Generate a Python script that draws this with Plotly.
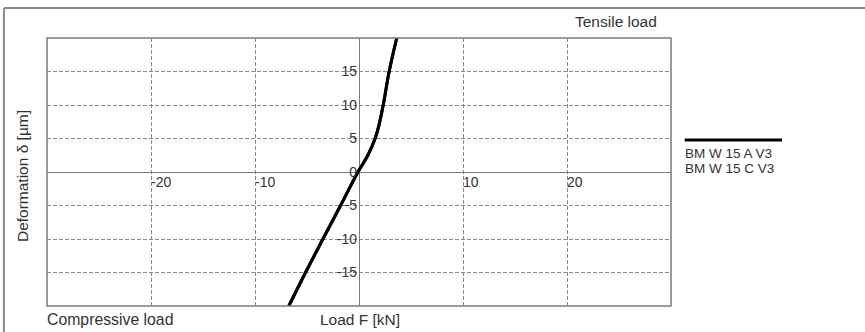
import plotly.graph_objects as go

# load F [kN] vs deformation [um]
load_kn = [-6.75, -5.14, -3.47, -1.77, -0.1, 0.85, 1.55, 1.92, 2.33, 2.9, 3.63]
deform_um = [-20, -15, -10, -5, 0, 2.5, 5, 7, 10, 15, 20]

x_ticks = [-20, -10, 10, 20]
y_ticks = [-15, -10, -5, 0, 5, 10, 15]

series_names = ["BM W 15 A V3", "BM W 15 C V3"]

txt = "#333333"
axis_col = "#7a7a7a"
grid_col = "#8a8a8a"
font = "Liberation Sans, Arial, sans-serif"

fig = go.Figure()
for name in series_names:
    fig.add_trace(go.Scatter(x=load_kn, y=deform_um, mode="lines", name=name,
                             line=dict(color="black", width=3, shape="spline", smoothing=1.0),
                             showlegend=False))

fig.update_layout(
    width=865, height=332,
    margin=dict(l=47, r=194, t=38, b=26),
    paper_bgcolor="white", plot_bgcolor="white",
    font=dict(family=font, color=txt, size=14),
    xaxis=dict(range=[-30, 30], tickvals=x_ticks, ticktext=[str(v) for v in x_ticks],
               showgrid=True, gridcolor=grid_col, griddash="4px,2px", gridwidth=1,
               zeroline=True, zerolinecolor=axis_col, zerolinewidth=1,
               showline=False, anchor="free", position=0.5,
               ticklabelposition="outside right", ticks="", ticklabelstandoff=0),
    yaxis=dict(range=[-20, 20], tickvals=y_ticks, ticktext=[str(v) for v in y_ticks],
               showgrid=True, gridcolor=grid_col, griddash="4px,2px", gridwidth=1,
               zeroline=True, zerolinecolor=axis_col, zerolinewidth=1,
               showline=False, anchor="free", position=0.5, ticks="",
               ticklabelstandoff=2),
)

# plot border
fig.add_shape(type="rect", xref="paper", yref="paper", x0=0, y0=0, x1=1, y1=1,
              line=dict(color=axis_col, width=1.5))
# outer frame (left + top)
fig.add_shape(type="line", xref="paper", yref="paper", x0=-0.069, y0=-0.2, x1=-0.069, y1=1.112,
              line=dict(color="#888888", width=2))
fig.add_shape(type="line", xref="paper", yref="paper", x0=-0.069, y0=1.112, x1=1.4, y1=1.112,
              line=dict(color="#888888", width=2))

# custom legend: one line sample above the two names
fig.add_shape(type="line", xref="paper", yref="paper", x0=1.022, x1=1.178, y0=0.619, y1=0.619,
              line=dict(color="black", width=3))
for i, name in enumerate(series_names):
    fig.add_annotation(text=name, xref="paper", yref="paper", x=1.02, y=0.568 - i * 0.056,
                       xanchor="left", yanchor="middle", showarrow=False,
                       font=dict(size=13.5, color=txt))

fig.add_annotation(text="Tensile load", xref="paper", yref="paper", x=0.98, y=1.06,
                   xanchor="right", yanchor="middle", showarrow=False, font=dict(size=15.5))
fig.add_annotation(text="Compressive load", xref="paper", yref="paper", x=-0.004, y=-0.05,
                   xanchor="left", yanchor="middle", showarrow=False, font=dict(size=15.8))
fig.add_annotation(text="Load F [kN]", xref="paper", yref="paper", x=0.502, y=-0.05,
                   xanchor="center", yanchor="middle", showarrow=False, font=dict(size=15.5))
fig.add_annotation(text="Deformation δ [µm]", xref="paper", yref="paper", x=-0.04, y=0.485,
                   xanchor="center", yanchor="middle", textangle=-90, showarrow=False,
                   font=dict(size=15.5))

fig.write_html("out.html", post_script="document.body.style.margin='0';",
               config={"displayModeBar": False})
